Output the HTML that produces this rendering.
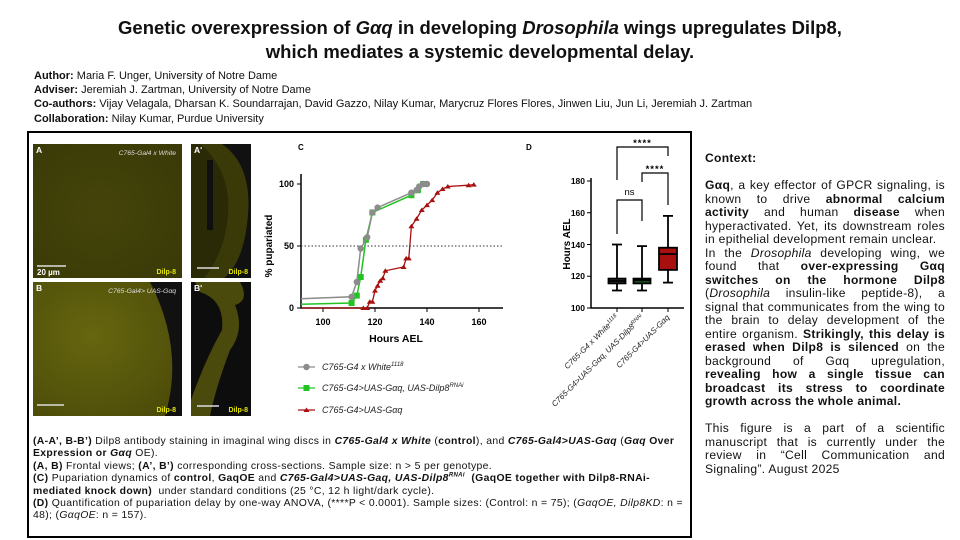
<!DOCTYPE html>
<html><head><meta charset="utf-8"><style>
html,body{margin:0;padding:0;background:#fff;}
body{width:960px;height:540px;position:relative;overflow:hidden;font-family:"Liberation Sans",Arial,sans-serif;color:#111;}
.title{position:absolute;left:0;width:960px;top:16px;text-align:center;font-weight:bold;font-size:18.5px;line-height:24px;}
.auth{position:absolute;left:34px;top:69px;font-size:11px;line-height:14.2px;}
.box{position:absolute;left:27px;top:131px;width:661px;height:403px;border:2px solid #000;}
.cap{position:absolute;left:33px;top:436px;width:652px;font-size:10.4px;line-height:12.4px;letter-spacing:0.35px;}
.ctx{position:absolute;left:705px;top:152px;width:240px;font-size:12.1px;line-height:13.5px;letter-spacing:0.3px;text-align:justify;}
svg text{font-family:"Liberation Sans",Arial,sans-serif;}
</style></head><body>
<div class="title">Genetic overexpression of <i>Gαq</i> in developing <i>Drosophila</i> wings upregulates Dilp8,<br>which mediates a systemic developmental delay.</div>
<div class="auth"><b>Author:</b> Maria F. Unger, University of Notre Dame<br><b>Adviser:</b> Jeremiah J. Zartman, University of Notre Dame<br><b>Co-authors:</b> Vijay Velagala, Dharsan K. Soundarrajan, David Gazzo, Nilay Kumar, Marycruz Flores Flores, Jinwen Liu, Jun Li, Jeremiah J. Zartman<br><b>Collaboration:</b> Nilay Kumar, Purdue University</div>
<div class="box"></div>
<svg width="960" height="540" style="position:absolute;left:0;top:0">
<defs>
<radialGradient id="g1" cx="45%" cy="50%" r="70%"><stop offset="0" stop-color="#44440a"/><stop offset="1" stop-color="#3a3a08"/></radialGradient>
<radialGradient id="g2" cx="40%" cy="40%" r="70%"><stop offset="0" stop-color="#66660f"/><stop offset="1" stop-color="#4d4d0a"/></radialGradient>
</defs>
<rect x="33" y="144" width="149" height="134" fill="url(#g1)"/>
<rect x="191" y="144" width="60" height="134" fill="#111"/>
<path d="M200 144 L222 144 Q252 165 248 215 Q244 262 224 278 L204 278 Q226 250 228 212 Q230 170 200 144Z" fill="#3a3a09"/>
<path d="M191 144 L200 144 Q230 170 228 212 Q226 250 204 278 L191 278Z" fill="#2a2a06"/>
<rect x="207" y="160" width="6" height="70" fill="#0f0f0f"/>
<rect x="33" y="282" width="149" height="134" fill="url(#g2)"/>
<path d="M150 282 L182 282 L182 416 L165 416 Q185 350 150 282Z" fill="#111"/>
<rect x="191" y="282" width="60" height="134" fill="#0d0d0d"/>
<path d="M195 282 L240 282 Q250 300 235 305 Q245 330 230 350 Q215 390 210 416 L191 416 L191 400 Q205 360 222 330 Q225 300 200 292Z" fill="#4a4a0c"/>
<g font-size="8.5" fill="#fff" font-weight="bold"><text x="36" y="153">A</text><text x="194" y="153">A'</text><text x="36" y="291">B</text><text x="194" y="291">B'</text></g>
<g font-size="6.8" fill="#ddd" font-style="italic"><text x="176" y="155" text-anchor="end">C765-Gal4 x White</text><text x="176" y="293" text-anchor="end">C765-Gal4&gt; UAS-Gαq</text></g>
<g font-size="7" fill="#e6e600" font-weight="bold"><text x="176" y="274" text-anchor="end">Dilp-8</text><text x="248" y="274" text-anchor="end">Dilp-8</text><text x="176" y="412" text-anchor="end">Dilp-8</text><text x="248" y="412" text-anchor="end">Dilp-8</text></g>
<g stroke="#ddd" stroke-width="1.5"><line x1="37" y1="266" x2="66" y2="266"/><line x1="197" y1="268" x2="219" y2="268"/><line x1="37" y1="405" x2="64" y2="405"/><line x1="197" y1="406" x2="219" y2="406"/></g>
<text x="37" y="275" font-size="8" fill="#fff" font-weight="bold">20 µm</text>
<!-- C -->
<text x="298" y="150" font-size="8" font-weight="bold">C</text>
<g stroke="#000" stroke-width="1.5" fill="none"><path d="M301 174 V308 H503"/></g>
<g stroke="#000" stroke-width="1"><line x1="297" y1="184" x2="301" y2="184"/><line x1="297" y1="246" x2="301" y2="246"/><line x1="297" y1="308" x2="301" y2="308"/>
<line x1="323" y1="308" x2="323" y2="312"/><line x1="375" y1="308" x2="375" y2="312"/><line x1="427" y1="308" x2="427" y2="312"/><line x1="479" y1="308" x2="479" y2="312"/></g>
<line x1="301" y1="246" x2="503" y2="246" stroke="#333" stroke-width="1" stroke-dasharray="1.5,2"/>
<g font-size="9" font-weight="bold" text-anchor="end"><text x="294" y="187">100</text><text x="294" y="249">50</text><text x="294" y="311">0</text></g>
<g font-size="9" font-weight="bold" text-anchor="middle"><text x="323" y="325">100</text><text x="375" y="325">120</text><text x="427" y="325">140</text><text x="479" y="325">160</text></g>
<text x="396" y="342" font-size="10.5" font-weight="bold" text-anchor="middle">Hours AEL</text>
<text transform="translate(272,246) rotate(-90)" font-size="10" font-weight="bold" text-anchor="middle">% pupariated</text>
<polyline fill="none" stroke="#a80f0f" stroke-width="1.3" points="301,308 363.3,308 367.2,308 369.8,301.8 372.4,301.8 375,290.6 377.6,285.7 380.2,280.7 382.8,278.2 385.4,270.8 403.6,267 406.2,258.4 408.8,258.4 411.4,226.2 416.6,218.7 421.8,210 427,205.1 432.2,200.1 437.4,192.7 442.6,189 447.8,186.5 468.6,185.2 473.8,184.6"/>
<g fill="#a80f0f">
<path d="M363.3,305.5l3,4.5h-6z M367.2,305.5l3,4.5h-6z M369.8,299.3l3,4.5h-6z M372.4,299.3l3,4.5h-6z M375,288.1l3,4.5h-6z M377.6,283.2l3,4.5h-6z M380.2,278.2l3,4.5h-6z M382.8,275.7l3,4.5h-6z M385.4,268.3l3,4.5h-6z M403.6,264.5l3,4.5h-6z M406.2,255.9l3,4.5h-6z M408.8,255.9l3,4.5h-6z M411.4,223.7l3,4.5h-6z M416.6,216.2l3,4.5h-6z M421.8,207.5l3,4.5h-6z M427,202.6l3,4.5h-6z M432.2,197.6l3,4.5h-6z M437.4,190.2l3,4.5h-6z M442.6,186.5l3,4.5h-6z M447.8,184l3,4.5h-6z M468.6,182.7l3,4.5h-6z M473.8,182.1l3,4.5h-6z"/></g>
<polyline fill="none" stroke="#22c322" stroke-width="1.5" points="301,304.3 351.6,303 356.8,295.6 360.7,277 365.9,239.8 372.4,212.5 411.4,195.2 417.9,190.2 423.1,184"/>
<g fill="#22c322"><rect x="348.6" y="300" width="6" height="6"/><rect x="353.8" y="292.6" width="6" height="6"/><rect x="357.7" y="274" width="6" height="6"/><rect x="362.9" y="236.8" width="6" height="6"/><rect x="369.4" y="209.5" width="6" height="6"/><rect x="408.4" y="192.2" width="6" height="6"/><rect x="414.9" y="187.2" width="6" height="6"/><rect x="420.1" y="181" width="6" height="6"/></g>
<polyline fill="none" stroke="#8c8c8c" stroke-width="1.5" points="301,298.7 351.6,296.8 356.8,282 360.7,248.5 367.2,237.3 372.4,212.5 377.6,207.6 411.4,192.7 416.6,190.2 419.2,186.5 423.1,184 427,184"/>
<g fill="#8c8c8c"><circle cx="351.6" cy="296.8" r="3.2"/><circle cx="356.8" cy="282" r="3.2"/><circle cx="360.7" cy="248.5" r="3.2"/><circle cx="367.2" cy="237.3" r="3.2"/><circle cx="372.4" cy="212.5" r="3.2"/><circle cx="377.6" cy="207.6" r="3.2"/><circle cx="411.4" cy="192.7" r="3.2"/><circle cx="416.6" cy="190.2" r="3.2"/><circle cx="419.2" cy="186.5" r="3.2"/><circle cx="423.1" cy="184" r="3.2"/><circle cx="427" cy="184" r="3.2"/></g>
<!-- legend -->
<g stroke-width="1.3"><line x1="298" y1="367" x2="315" y2="367" stroke="#8c8c8c"/><line x1="298" y1="388" x2="315" y2="388" stroke="#22c322"/><line x1="298" y1="410" x2="315" y2="410" stroke="#a80f0f"/></g>
<circle cx="306.5" cy="367" r="3.2" fill="#8c8c8c"/><rect x="303.5" y="385" width="6" height="6" fill="#22c322"/><path d="M306.5,407.5l3,4.5h-6z" fill="#a80f0f"/>
<g font-size="9" font-style="italic" fill="#222"><text x="322" y="370">C765-G4 x White<tspan font-size="6" dy="-4">1118</tspan></text><text x="322" y="391">C765-G4&gt;UAS-Gαq, UAS-Dilp8<tspan font-size="6" dy="-4">RNAi</tspan></text><text x="322" y="413">C765-G4&gt;UAS-Gαq</text></g>
<!-- D -->
<text x="526" y="150" font-size="8" font-weight="bold">D</text>
<g stroke="#000" stroke-width="1.5" fill="none"><path d="M591 178 V308 H684"/></g>
<g stroke="#000" stroke-width="1"><line x1="587" y1="181" x2="591" y2="181"/><line x1="587" y1="212.75" x2="591" y2="212.75"/><line x1="587" y1="244.5" x2="591" y2="244.5"/><line x1="587" y1="276.25" x2="591" y2="276.25"/><line x1="587" y1="308" x2="591" y2="308"/>
<line x1="617" y1="308" x2="617" y2="312"/><line x1="642" y1="308" x2="642" y2="312"/><line x1="668" y1="308" x2="668" y2="312"/></g>
<g font-size="8.5" font-weight="bold" text-anchor="end"><text x="585" y="184">180</text><text x="585" y="216">160</text><text x="585" y="248">140</text><text x="585" y="279">120</text><text x="585" y="311">100</text></g>
<text transform="translate(570,244) rotate(-90)" font-size="10" font-weight="bold" text-anchor="middle">Hours AEL</text>
<g stroke="#000" stroke-width="1.8">
<line x1="617" y1="290.5" x2="617" y2="244.5"/><line x1="612" y1="290.5" x2="622" y2="290.5"/><line x1="612" y1="244.5" x2="622" y2="244.5"/>
<rect x="608.5" y="278.6" width="17" height="4.8" fill="#333"/><line x1="608.5" y1="281" x2="625.5" y2="281"/>
<line x1="642" y1="290.5" x2="642" y2="246.1"/><line x1="637" y1="290.5" x2="647" y2="290.5"/><line x1="637" y1="246.1" x2="647" y2="246.1"/>
<rect x="633.5" y="278.6" width="17" height="4.8" fill="#1c5a1c"/><line x1="633.5" y1="280.2" x2="650.5" y2="280.2"/>
<line x1="668" y1="282.6" x2="668" y2="215.9"/><line x1="663" y1="282.6" x2="673" y2="282.6"/><line x1="663" y1="215.9" x2="673" y2="215.9"/>
<rect x="659" y="247.7" width="18" height="22.2" fill="#a80f0f"/><line x1="659" y1="254" x2="677" y2="254"/>
</g>
<g stroke="#000" stroke-width="1.2" fill="none"><path d="M617 234 V200 H642 V221"/><path d="M617 180 V147 H668 V156"/><path d="M642 182 V173 H668 V205"/></g>
<g font-size="9.5" text-anchor="middle"><text x="629.5" y="195">ns</text><text x="642.5" y="146" font-weight="bold" letter-spacing="1">****</text><text x="655" y="172" font-weight="bold" letter-spacing="1">****</text></g>
<g font-size="8" fill="#222" font-style="italic" text-anchor="end">
<text transform="translate(619,318) rotate(-45)">C765-G4 x White<tspan font-size="5.5" dy="-3">1118</tspan></text>
<text transform="translate(644,318) rotate(-45)">C765-G4&gt;UAS-Gαq, UAS-Dilp8<tspan font-size="5.5" dy="-3">RNAi</tspan></text>
<text transform="translate(670,318) rotate(-45)">C765-G4&gt;UAS-Gαq</text></g>
</svg>
<div class="cap"><b>(A-A’, B-B’)</b> Dilp8 antibody staining in imaginal wing discs in <b><i>C765-Gal4 x White</i></b> (<b>control</b>), and <b><i>C765-Gal4&gt;UAS-Gαq</i></b> (<b><i>Gαq</i> Over Expression or <i>Gαq</i></b> OE).<br><b>(A, B)</b> Frontal views; <b>(A’, B’)</b> corresponding cross-sections. Sample size: n &gt; 5 per genotype.<br><b>(C)</b> Pupariation dynamics of <b>control</b>, <b>GaqOE</b> and <b><i>C765-Gal4&gt;UAS-Gaq, UAS-Dilp8<sup style="font-size:6px;line-height:0">RNAi</sup></i></b> &nbsp;<b>(GaqOE together with Dilp8-RNAi-mediated knock down)</b> &nbsp;under standard conditions (25 °C, 12 h light/dark cycle).<br><b>(D)</b> Quantification of pupariation delay by one-way ANOVA, (****P &lt; 0.0001). Sample sizes: (Control: n = 75); (<i>GαqOE, Dilp8KD</i>: n = 48); (<i>GαqOE</i>: n = 157).</div>
<div class="ctx"><b>Context:</b><br><br><b>Gαq</b>, a key effector of GPCR signaling, is known to drive <b>abnormal calcium activity</b> and human <b>disease</b> when hyperactivated. Yet, its downstream roles in epithelial development remain unclear.<br>In the <i>Drosophila</i> developing wing, we found that <b>over-expressing Gαq switches on the hormone Dilp8</b> (<i>Drosophila</i> insulin-like peptide-8), a signal that communicates from the wing to the brain to delay development of the entire organism. <b>Strikingly, this delay is erased when Dilp8 is silenced</b> on the background of Gαq upregulation, <b>revealing how a single tissue can broadcast its stress to coordinate growth across the whole animal.</b><br><br>This figure is a part of a scientific manuscript that is currently under the review in “Cell Communication and Signaling”. August 2025</div>
</body></html>
